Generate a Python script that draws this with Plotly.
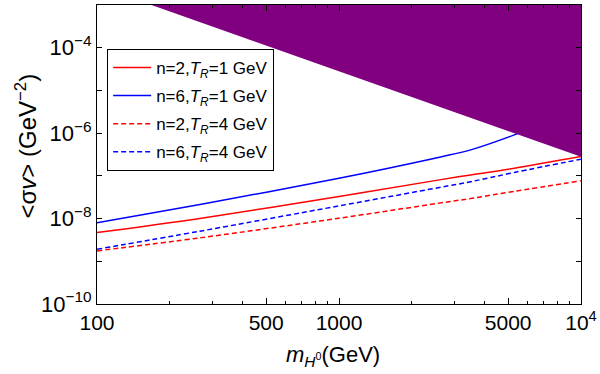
import plotly.graph_objects as go

# Data
mass = [100, 270, 1000, 2600, 3500, 5300, 10000]
red_solid = [4.7e-9, 1.02e-8, 3.27e-8, 8.05e-8, 1.05e-7, 1.51e-7, 2.83e-7]
blue_dashed = [1.91e-9, 5.14e-9, 1.98e-8, 5.35e-8, 7.3e-8, 1.2e-7, 2.46e-7]
red_dashed = [1.75e-9, 3.58e-9, 1.02e-8, 2.3e-8, 2.95e-8, 4.35e-8, 7.64e-8]
mass_blue = [100, 270, 1000, 2600, 3500, 5300, 6200]
blue_solid = [8.0e-9, 2.17e-8, 8.8e-8, 2.74e-7, 4.06e-7, 9.1e-7, 1.3e-6]

# Excluded region (purple) boundary polygon
bound_x = [168, 10000, 10000]
bound_y = [1e-3, 2.8e-7, 1e-3]

ytick_vals = [1e-10, 1e-8, 1e-6, 1e-4]
ytick_text = ["10<sup>\u221210</sup>", "10<sup>\u22128</sup>", "10<sup>\u22126</sup>", "10<sup>\u22124</sup>"]
ytick_minor = [1e-9, 1e-7, 1e-5, 1e-3]
xtick_vals = [100, 500, 1000, 5000, 10000]
xtick_text = ["100", "500", "1000", "5000", "10<sup>4</sup>"]
xtick_minor = [200, 300, 400, 600, 700, 800, 900, 2000, 3000, 4000, 6000, 7000, 8000, 9000]

FONT = "Liberation Sans, Arial, Helvetica, sans-serif"

fig = go.Figure()
lw = 1.5
fig.add_trace(go.Scatter(x=mass, y=red_solid, mode="lines", line=dict(color="#ff0000", width=lw, shape="spline"),
                         name="n=2,<i>T</i><sub><i>R</i></sub>=1 GeV", legendgroup="a"))
fig.add_trace(go.Scatter(x=mass_blue, y=blue_solid, mode="lines", line=dict(color="#0000ff", width=lw, shape="spline"),
                         name="n=6,<i>T</i><sub><i>R</i></sub>=1 GeV", legendgroup="b"))
fig.add_trace(go.Scatter(x=mass, y=red_dashed, mode="lines", line=dict(color="#ff0000", width=lw, dash="5px,3px", shape="spline"),
                         name="n=2,<i>T</i><sub><i>R</i></sub>=4 GeV", legendgroup="c"))
fig.add_trace(go.Scatter(x=mass, y=blue_dashed, mode="lines", line=dict(color="#0000ff", width=lw, dash="5px,3px", shape="spline"),
                         name="n=6,<i>T</i><sub><i>R</i></sub>=4 GeV", legendgroup="d"))
fig.add_trace(go.Scatter(x=bound_x, y=bound_y, mode="lines", fill="toself", fillcolor="#800080",
                         line=dict(color="#800080", width=0), showlegend=False, hoverinfo="skip"))

axis_common = dict(
    showgrid=False, zeroline=False, showline=True, linecolor="black", linewidth=1,
    mirror="allticks", ticks="inside", tickcolor="black", tickwidth=1, automargin=False,
)

fig.update_xaxes(type="log", range=[2, 4], tickmode="array", tickvals=xtick_vals, ticktext=xtick_text,
                 ticklen=6, tickfont=dict(family=FONT, size=21, color="black"),
                 minor=dict(tickmode="array", tickvals=xtick_minor, ticklen=3, ticks="inside", tickcolor="black"),
                 **axis_common)
fig.update_yaxes(type="log", range=[-10, -3], tickmode="array", tickvals=ytick_vals, ticktext=ytick_text,
                 ticklen=5, tickfont=dict(family=FONT, size=22, color="black"),
                 minor=dict(tickmode="array", tickvals=ytick_minor, ticklen=5, ticks="inside", tickcolor="black"),
                 **axis_common)

# Axis titles as annotations for precise placement
fig.add_annotation(text="<i>m</i><sub><i>H</i><sup>0</sup></sub>(GeV)", xref="paper", yref="paper",
                   x=(333 - 97) / 484, y=-(356 - 304) / 299, xanchor="center", yanchor="middle",
                   showarrow=False, font=dict(family=FONT, size=22, color="black"))
fig.add_annotation(text="<\u03c3<i>v</i>> (GeV<sup>\u22122</sup>)", xref="paper", yref="paper",
                   x=-(97 - 25) / 484, y=(304 - 146.5) / 299, xanchor="center", yanchor="middle",
                   textangle=-90, showarrow=False, font=dict(family=FONT, size=24, color="black"))

fig.update_layout(
    width=600, height=374,
    margin=dict(l=97, r=19, t=5, b=70),
    paper_bgcolor="white", plot_bgcolor="white",
    font=dict(family=FONT, size=17, color="black"),
    legend=dict(x=0.021, y=0.853, xanchor="left", yanchor="top",
                bgcolor="white", bordercolor="black", borderwidth=1,
                font=dict(family=FONT, size=17, color="black"),
                tracegroupgap=3, traceorder="grouped", itemwidth=38),
    showlegend=True,
)

fig.write_html("out.html", config={"displayModeBar": False},
               post_script="document.body.style.margin='0';")
